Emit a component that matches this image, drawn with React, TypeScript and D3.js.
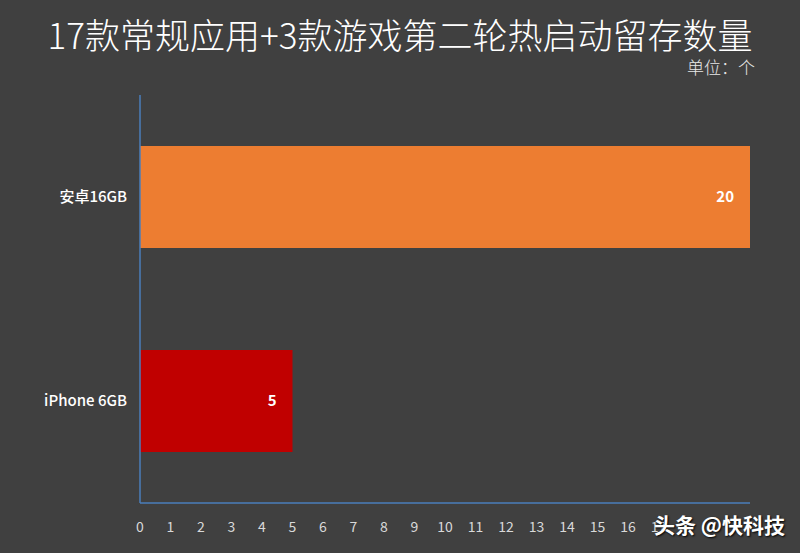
import React from "react";
import * as d3 from "d3";

const categories = ["安卓16GB", "iPhone 6GB"];
const values = [20, 5];
const colors = ["#ED7D31", "#C00000"];
const tickLabels = d3.range(0, 18);

const W = 800, H = 553;
const margin = { left: 140, right: 50, top: 95, bottom: 50 };

export default function App() {
  const x = d3.scaleLinear().domain([0, 20]).range([margin.left, W - margin.right]);
  const y = d3.scaleBand().domain(categories).range([margin.top, H - margin.bottom]).paddingInner(0.5).paddingOuter(0.25);
  const font = "'Noto Sans CJK SC', 'Noto Sans', sans-serif";
  return (
    <svg width={W} height={H} style={{ position: "absolute", left: 0, top: 0, display: "block" }} fontFamily={font}>
      <rect width={W} height={H} fill="#404040" />
      <text x={400} y={49} textAnchor="middle" fill="#ffffff" fontSize={35} fontWeight={300}>17款常规应用+3款游戏第二轮热启动留存数量</text>
      <text x={755} y={74} textAnchor="end" fill="#e8e8e8" fontSize={17} fontWeight={300}>单位：个</text>
      {categories.map((c, i) => (
        <g key={c}>
          <rect x={x(0)} y={y(c)!} width={x(values[i]) - x(0)} height={y.bandwidth()} fill={colors[i]} />
          <text x={x(values[i]) - 16} y={y(c)! + y.bandwidth() / 2} dy="0.35em" textAnchor="end" fill="#ffffff" fontSize={15} fontWeight={700}>{values[i]}</text>
          <text x={127} y={y(c)! + y.bandwidth() / 2} dy="0.35em" textAnchor="end" fill="#ffffff" fontSize={15} fontWeight={500}>{c}</text>
        </g>
      ))}
      <line x1={x(0)} x2={x(0)} y1={margin.top} y2={H - margin.bottom} stroke="#4A7EBB" strokeWidth={1.5} />
      <line x1={x(0)} x2={x(20)} y1={H - margin.bottom} y2={H - margin.bottom} stroke="#4A7EBB" strokeWidth={1.5} />
      {tickLabels.map(t => (
        <text key={t} x={x(t)} y={527} dy="0.35em" textAnchor="middle" fill="#d9d9d9" fontSize={14}>{t}</text>
      ))}
      <rect x={664} y={510} width={130} height={32} fill="#404040" />
      <text x={785} y={526} dy="0.35em" textAnchor="end" fill="#ffffff" fontSize={21} fontWeight={700} style={{ textShadow: "1px 1px 2px #000" }}>头条 @快科技</text>
    </svg>
  );
}
